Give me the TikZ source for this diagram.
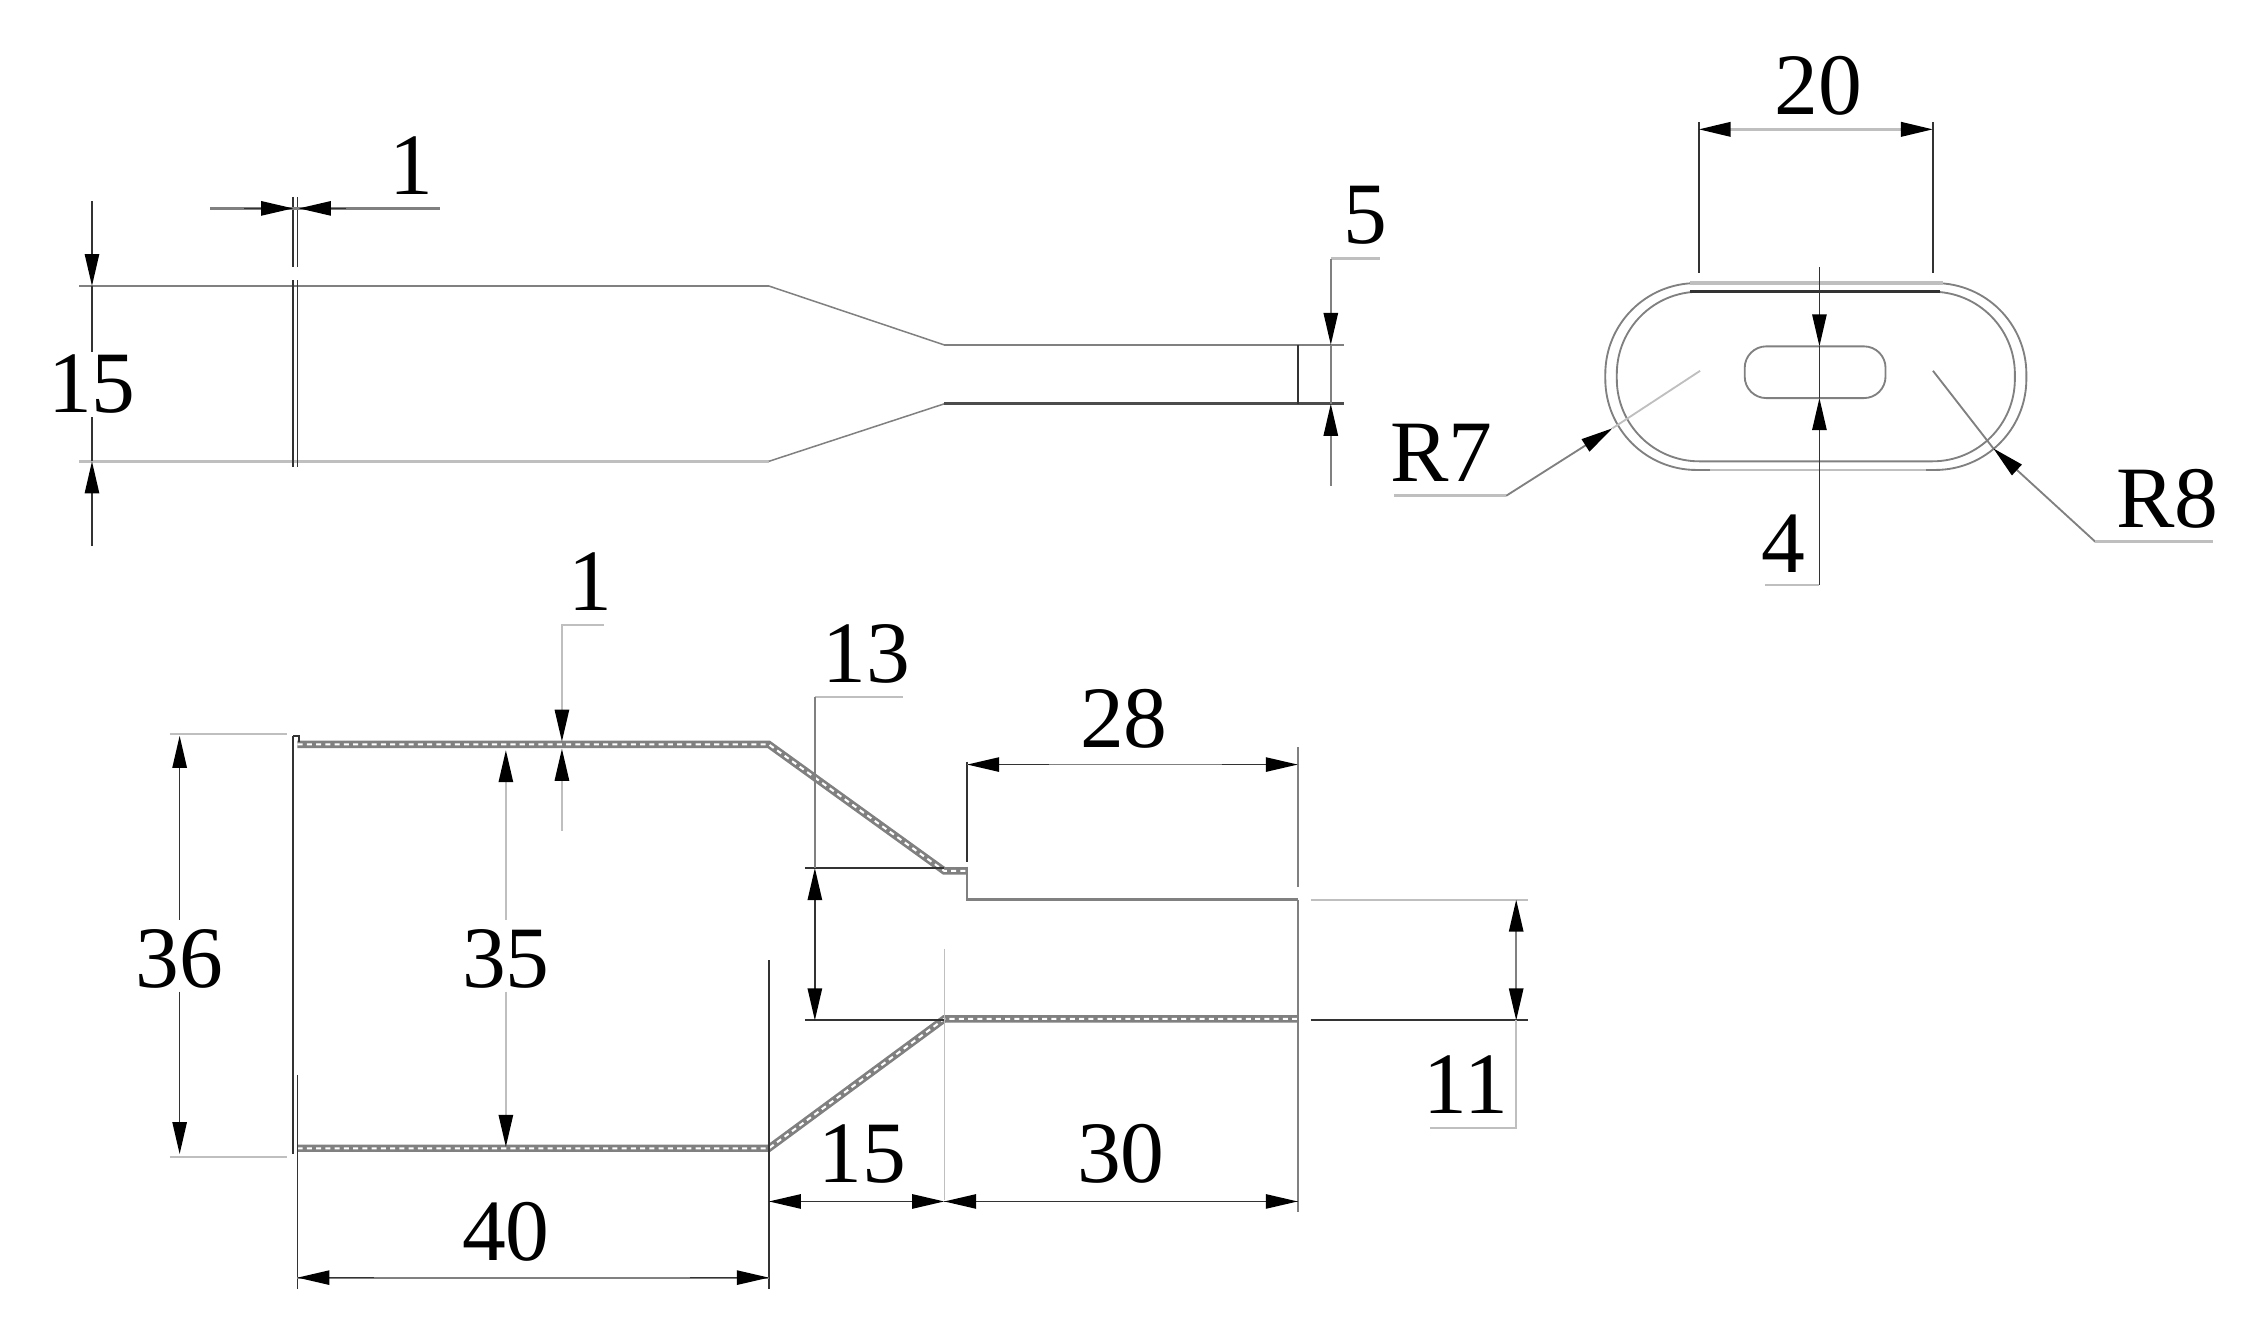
\documentclass[tikz,border=0pt]{standalone}
\usepackage{fontspec}
\setmainfont{Liberation Serif}
\usepackage{tikz}
\usetikzlibrary{arrows.meta}
\definecolor{dk}{gray}{0.2}
\definecolor{md}{gray}{0.5}
\definecolor{lt}{gray}{0.75}
\tikzset{
dimtext/.style={inner sep=0pt, font=\fontsize{52}{52}\selectfont},
ln/.style={line width=1pt, dk},
lnm/.style={line width=1.1pt, md},
lnl/.style={line width=1.1pt, lt},
tip/.style={-{Triangle[length=19pt, width=8.5pt, color=black]}},
wall/.style={draw=md, line width=4.4pt, postaction={draw=white, line width=1.2pt, dash pattern=on 3pt off 2.5pt}},
}
\begin{document}
\begin{tikzpicture}[x=0.03cm, y=-0.03cm]
\useasboundingbox (0,0) rectangle (1567,923.4);
% top view
\draw[lnm, line width=1.6pt] (55,199) -- (535,199);
\draw[lnm, line width=0.9pt] (535,199) -- (657,240);
\draw[lnm, line width=1.6pt] (657,240) -- (935,240);
\draw[lnl, line width=1.6pt] (55,321) -- (535,321);
\draw[lnm, line width=0.9pt] (535,321) -- (657,281);
\draw[ln, line width=1.8pt, md!60!black] (657,281) -- (935,281);
\foreach \x in {204,207}{
\draw[ln] (\x,137) -- (\x,186);
\draw[ln] (\x,195) -- (\x,325);
}
\draw[ln] (903,240) -- (903,281);
\draw[lnm, line width=1.8pt] (146,145) -- (306,145);
\draw[ln, tip] (170,145) -- (204,145);
\draw[ln, tip] (241,145) -- (208,145);
\draw[ln, tip] (64,140) -- (64,199);
\draw[ln] (64,199) -- (64,245);
\draw[ln, tip] (64,380) -- (64,321);
\draw[ln] (64,321) -- (64,290);
\draw[lnl, line width=1.6pt] (960,180) -- (926,180);
\draw[ln, md, tip] (926,180) -- (926,240);
\draw[ln, md] (926,240) -- (926,281);
\draw[ln, md, tip] (926,338) -- (926,281);
\node[dimtext] (topone) at (286,115) {1};
\node[dimtext] (topfifteen) at (64,267) {15};
\node[dimtext] (topfive) at (950,150) {5};
% end view
\draw[lnm] (1117,197) [rounded corners=1.9cm] rectangle (1410,327);
\draw[lnm] (1125,203) [rounded corners=1.72cm] rectangle (1402,321);
\draw[lnm] (1214,241) [rounded corners=0.45cm] rectangle (1312,277);
\draw[lnl, line width=2.2pt] (1176,197) -- (1352,197);
\draw[ln, line width=1.8pt] (1176,203) -- (1350,203);
\draw[white, line width=2pt] (1190,327) -- (1340,327);
\draw[lt, line width=1.2pt] (1190,327) -- (1340,327);
\draw[ln] (1182,85) -- (1182,190);
\draw[ln] (1345,85) -- (1345,190);
\draw[lnl, line width=1.6pt, tip] (1265,90) -- (1182,90);
\draw[lnl, line width=1.6pt, tip] (1265,90) -- (1345,90);
\draw[ln, tip] (1266,186) -- (1266,241);
\draw[ln] (1266,241) -- (1266,277);
\draw[ln, tip] (1266,407) -- (1266,277);
\draw[lnl] (1228,407) -- (1266,407);
\draw[lnm, tip] (1048,345) -- (1122,298);
\draw[lnl, line width=1.6pt] (970,345) -- (1048,345);
\draw[lnl] (1122,298) -- (1183,258);
\draw[lnm, tip] (1458,377) -- (1387,312);
\draw[lnl, line width=1.6pt] (1458,377) -- (1540,377);
\draw[lnm] (1387,312) -- (1345,258);
\node[dimtext] (endtwenty) at (1265,60) {20};
\node[dimtext] (endfour) at (1241,378) {4};
\node[dimtext] (endseven) at (1003,315) {R7};
\node[dimtext] (endeight) at (1508,347) {R8};
% side view, walls
\draw[wall] (207,518) -- (535,518) -- (657,606) -- (673,606);
\draw[wall] (207,799) -- (535,799) -- (657,709) -- (903,709);
\draw[ln, line width=1.3pt] (204,512) -- (204,803);
\draw[ln, line width=1.3pt] (204,512) -- (208,512) -- (208,516);
\draw[lnm, line width=1.5pt] (673,603) -- (673,626) -- (903,626);
% side view, extension lines
\draw[ln] (207,748) -- (207,897);
\draw[ln] (535,668) -- (535,897);
\draw[lnl, line width=0.6pt] (657,660) -- (657,835);
\draw[ln] (673,530) -- (673,600);
\draw[lnm] (903,520) -- (903,617);
\draw[lnm] (903,626) -- (903,843);
\draw[lnl] (118,511) -- (200,511);
\draw[lnl] (118,805) -- (200,805);
\draw[ln] (560,604) -- (657,604);
\draw[ln, line width=1.2pt] (560,710) -- (657,710);
\draw[ln, line width=1.2pt] (912,710) -- (1063,710);
\draw[lnl] (912,626) -- (1063,626);
% side view, dimensions
\draw[lnl] (420,435) -- (391,435) -- (391,460);
\draw[lnl, tip] (391,460) -- (391,516);
\draw[lnl, tip] (391,578) -- (391,521);
\draw[lnl, tip] (352,640) -- (352,522);
\draw[lnl, tip] (352,690) -- (352,798);
\draw[ln, tip] (125,640) -- (125,512);
\draw[ln, tip] (125,690) -- (125,803);
\draw[lnm] (207,889) -- (535,889);
\draw[ln, tip] (260,889) -- (207,889);
\draw[ln, tip] (480,889) -- (535,889);
\draw[ln, tip] (600,836) -- (535,836);
\draw[ln, tip] (600,836) -- (657,836);
\draw[ln] (657,836) -- (903,836);
\draw[ln, tip] (720,836) -- (657,836);
\draw[ln, tip] (840,836) -- (903,836);
\draw[lnm] (673,532) -- (903,532);
\draw[ln, tip] (730,532) -- (673,532);
\draw[ln, tip] (850,532) -- (903,532);
\draw[lnl] (628,485) -- (567,485);
\draw[lnm] (567,485) -- (567,604);
\draw[ln, tip] (567,660) -- (567,604);
\draw[ln, tip] (567,660) -- (567,710);
\draw[lnm, tip] (1055,670) -- (1055,626);
\draw[lnm, tip] (1055,670) -- (1055,710);
\draw[lnl] (1055,710) -- (1055,785) -- (995,785);
\node[dimtext] (sideone) at (411,405) {1};
\node[dimtext] (sidethirteen) at (603,455) {13};
\node[dimtext] (sidetwentyeight) at (782,500) {28};
\node[dimtext] (sidethirtysix) at (125,667) {36};
\node[dimtext] (sidethirtyfive) at (352,667) {35};
\node[dimtext] (sideforty) at (352,857) {40};
\node[dimtext] (sidefifteen) at (600,803) {15};
\node[dimtext] (sidethirty) at (780,803) {30};
\node[dimtext] (sideeleven) at (1020,755) {11};
\end{tikzpicture}
\end{document}
